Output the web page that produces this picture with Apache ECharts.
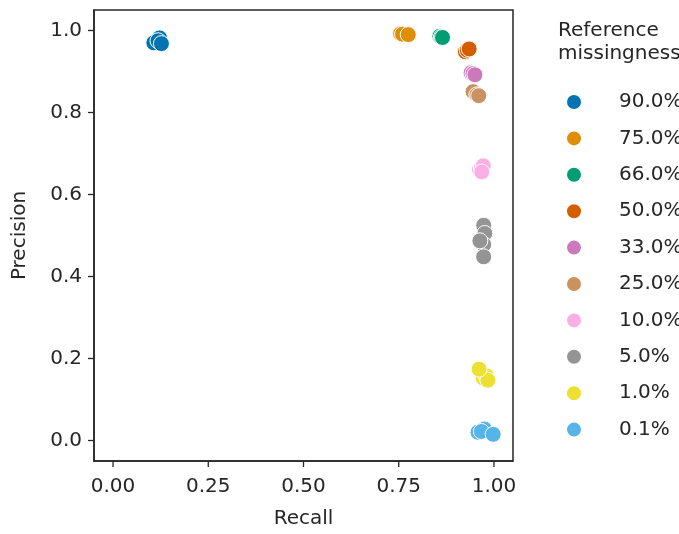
<!DOCTYPE html>
<html>
<head>
<meta charset="utf-8">
<script src="https://cdn.jsdelivr.net/npm/echarts@6/dist/echarts.min.js"></script>
<style>html,body{margin:0;padding:0;background:#fff}#c{width:679px;height:534px}</style>
</head>
<body>
<div id="c"></div>
<script>
const labels = ['90.0%','75.0%','66.0%','50.0%','33.0%','25.0%','10.0%','5.0%','1.0%','0.1%'];
const colors = ['#0173b2','#de8f05','#029e73','#d55e00','#cc78bc','#ca9161','#fbafe4','#949494','#ece133','#56b4e9'];
const xTicks = [0, 0.25, 0.5, 0.75, 1.0];
const yTicks = [0, 0.2, 0.4, 0.6, 0.8, 1.0];
const m90 = [[0.107,0.970],[0.122,0.982],[0.118,0.975],[0.127,0.968]];
const m75 = [[0.755,0.992],[0.760,0.991],[0.775,0.990]];
const m66 = [[0.858,0.986],[0.862,0.984],[0.865,0.983]];
const m50 = [[0.925,0.948],[0.930,0.952],[0.935,0.955]];
const m33 = [[0.940,0.897],[0.945,0.895],[0.950,0.892]];
const m25 = [[0.945,0.851],[0.955,0.843],[0.960,0.841]];
const m10 = [[0.962,0.660],[0.967,0.665],[0.972,0.670],[0.968,0.655]];
const m5 = [[0.973,0.525],[0.976,0.505],[0.973,0.478],[0.963,0.487],[0.973,0.448]];
const m1 = [[0.972,0.152],[0.980,0.158],[0.984,0.147],[0.961,0.174]];
const m01 = [[0.958,0.020],[0.975,0.028],[0.967,0.022],[0.998,0.015]];
const allData = [m90,m75,m66,m50,m33,m25,m10,m5,m1,m01];

const AX_MIN = -0.05, AX_MAX = 1.05;
const font = 'DejaVu Sans';
const ink = '#262626';
const TICK_LEN = 6;

const scatterSeries = labels.map((name, i) => ({
  name: name, type: 'scatter', data: allData[i], symbolSize: 16,
  itemStyle: {color: colors[i], borderColor: '#fff', borderWidth: 1, opacity: 1}
}));

const xTickSeries = {
  type: 'custom', name: 'xticks', silent: true, clip: false, z: 10,
  data: xTicks.map(v => [v, AX_MIN]),
  encode: {x: 0, y: 1},
  renderItem: (params, api) => {
    const p = api.coord([api.value(0), AX_MIN]);
    return {type: 'line', shape: {x1: p[0], y1: p[1], x2: p[0], y2: p[1] + TICK_LEN},
      style: {stroke: ink, lineWidth: 1.3}};
  }
};
const yTickSeries = {
  type: 'custom', name: 'yticks', silent: true, clip: false, z: 10,
  data: yTicks.map(v => [AX_MIN, v]),
  encode: {x: 0, y: 1},
  renderItem: (params, api) => {
    const p = api.coord([AX_MIN, api.value(1)]);
    return {type: 'line', shape: {x1: p[0] - TICK_LEN, y1: p[1], x2: p[0], y2: p[1]},
      style: {stroke: ink, lineWidth: 1.3}};
  }
};

const chart = echarts.init(document.getElementById('c'), null, {renderer:'canvas'});
chart.setOption({
  animation: false,
  backgroundColor: '#fff',
  title: {
    text: 'Reference\nmissingness', left: 553, top: 14,
    textStyle: {fontFamily: font, fontSize: 20, fontWeight: 'normal', color: ink, lineHeight: 23}
  },
  legend: {
    orient: 'vertical', left: 560, top: 87, itemWidth: 16, itemHeight: 16, itemGap: 16.4,
    icon: 'circle',
    data: labels,
    textStyle: {fontFamily: font, fontSize: 20, color: ink, padding: [0,0,0,32]}
  },
  grid: {left: 94, right: 166, top: 10, bottom: 71, show: true, borderColor: ink, borderWidth: 1.5, containLabel: false},
  xAxis: {
    type: 'value', min: AX_MIN, max: AX_MAX,
    name: 'Recall', nameLocation: 'middle', nameGap: 48,
    nameTextStyle: {fontFamily: font, fontSize: 20, color: ink},
    axisLine: {show: true, onZero: false, lineStyle: {color: ink, width: 1.5}},
    axisTick: {show: false},
    axisLabel: {fontFamily: font, fontSize: 20, color: ink, margin: 16, customValues: xTicks, formatter: v => v.toFixed(2)},
    splitLine: {show: false}
  },
  yAxis: {
    type: 'value', min: AX_MIN, max: AX_MAX,
    name: 'Precision', nameLocation: 'middle', nameGap: 64,
    nameTextStyle: {fontFamily: font, fontSize: 20, color: ink},
    axisLine: {show: true, onZero: false, lineStyle: {color: ink, width: 1.5}},
    axisTick: {show: false},
    axisLabel: {fontFamily: font, fontSize: 20, color: ink, margin: 12, customValues: yTicks, formatter: v => v.toFixed(1)},
    splitLine: {show: false}
  },
  series: [...scatterSeries, xTickSeries, yTickSeries]
});
</script>
</body>
</html>
